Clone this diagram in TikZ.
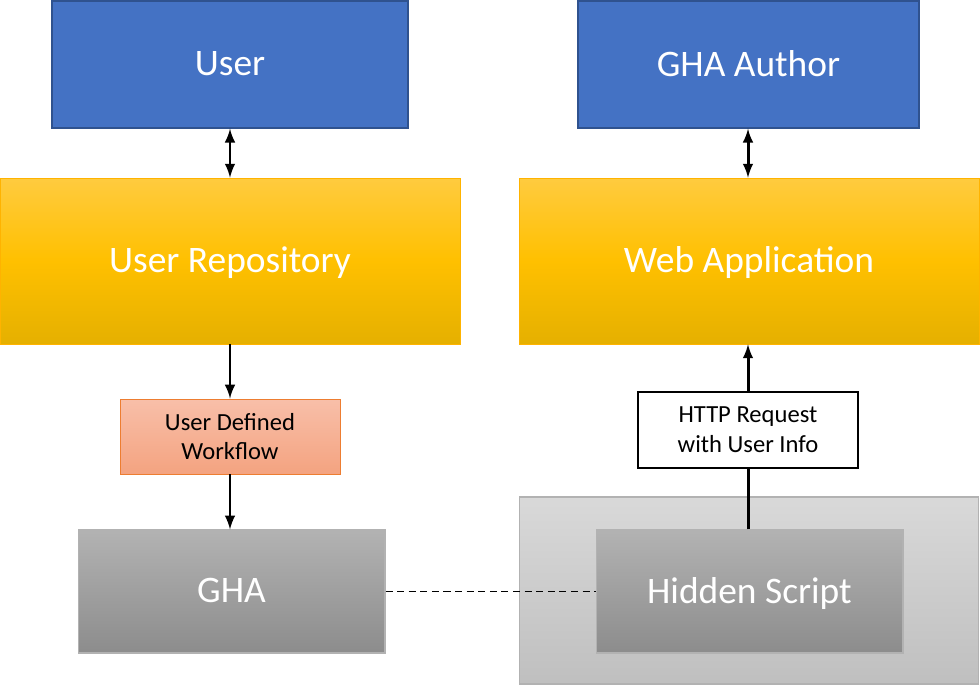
\documentclass[tikz,border=0pt]{standalone}
\usepackage{fontspec}
\setmainfont{Carlito}
\usepackage{tikz}
\usetikzlibrary{shapes,arrows}
\usetikzlibrary{arrows,positioning}
\definecolor{boxblue}{HTML}{4472C4}
\definecolor{boxblueline}{HTML}{2F528F}
\definecolor{goldtop}{HTML}{FFCB3F}
\definecolor{goldmid}{HTML}{FFC000}
\definecolor{goldbot}{HTML}{E5B000}
\definecolor{salmontop}{HTML}{F8BFA9}
\definecolor{salmonbot}{HTML}{F4A380}
\definecolor{wfline}{HTML}{ED7D31}

\begin{document}
\begin{tikzpicture}[x=0.02cm,y=-0.02cm,
    bigfont/.style={font=\fontsize{21.3}{25}\selectfont, text depth=0.25ex},
    smallfont/.style={font=\fontsize{14}{17}\selectfont, align=center, text depth=0pt},
    actor/.style={rectangle, draw=boxblueline, line width=0.8pt, fill=boxblue,
      text=white, bigfont},
    repo/.style={rectangle, draw=goldmid!80!orange, line width=0.4pt,
      top color=goldtop, bottom color=goldbot, middle color=goldmid,
      text=white, minimum width=9.2cm, minimum height=3.32cm, bigfont},
    graybox/.style={rectangle, draw=gray!60, line width=0.6pt,
      top color=black!30, bottom color=black!45,
      text=white, minimum width=6.14cm, minimum height=2.46cm, bigfont},
    link/.style={line width=1.7pt, -latex},
  ]
\useasboundingbox (0,0) rectangle (980,685);
% top row
\node[actor, minimum width=7.12cm, minimum height=2.54cm] (user) at (230,64.5) {User};
\node[actor, minimum width=6.82cm, minimum height=2.54cm] (author) at (748.5,64.5) {GHA Author};
% repositories
\node[repo] (repo) at (230,261) {User Repository};
\node[repo] (webapp) at (749,261) {Web Application};
% middle boxes
\node[rectangle, draw=wfline, line width=0.5pt, top color=salmontop, bottom color=salmonbot,
  minimum width=4.4cm, minimum height=1.5cm, smallfont] (workflow) at (230,436.5) {User Defined\\Workflow};
\node[rectangle, draw=black, line width=0.9pt, fill=white,
  minimum width=4.4cm, minimum height=1.52cm, smallfont] (request) at (748,430) {HTTP Request\\with User Info};
% bottom row
\node[rectangle, draw=gray!60, line width=0.6pt, top color=black!15, bottom color=black!25,
  minimum width=9.2cm, minimum height=3.74cm] (sandbox) at (749,590.5) {};
\node[graybox] (gha) at (231.5,591.5) {GHA};
\node[graybox] (hidden) at (749.5,591.5) {Hidden Script};
% connectors
\draw[link, latex-latex] (user) -- (repo);
\draw[link, latex-latex] (author.south -| request.north) -- (webapp.north -| request.north);
\draw[link] (repo) -- (workflow);
\draw[link] (workflow.south) -- (workflow.south |- gha.north);
\draw[line width=1.7pt] (hidden.north -| request.south) -- (request.south);
\draw[link] (request.north) -- (webapp.south -| request.north);
\draw[line width=1.1pt, dash pattern=on 4pt off 2.6pt] (gha) -- (hidden);
\end{tikzpicture}
\end{document}
